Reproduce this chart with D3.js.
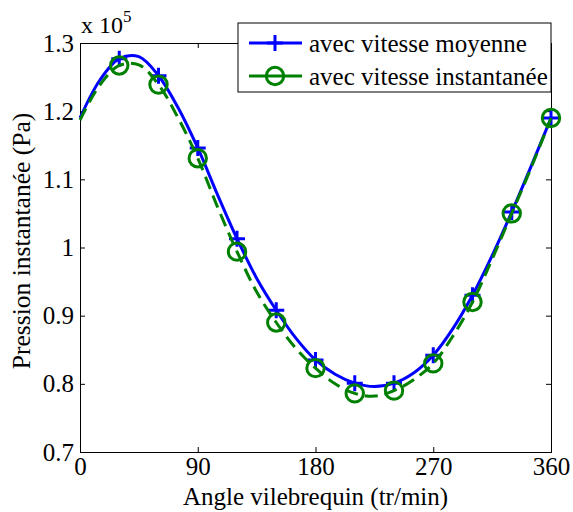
<!DOCTYPE html>
<html>
<head>
<meta charset="utf-8">
<script src="https://cdn.jsdelivr.net/npm/d3@7"></script>
<style>
  body { margin: 0; background: #fff; }
</style>
</head>
<body>
<div id="chart"></div>
<script>
// angle (deg) every 15, values in units of 1e5 Pa
var angles = d3.range(0, 361, 15);
var moyenne = [1.190, 1.245, 1.277, 1.280, 1.252, 1.205, 1.146, 1.078, 1.013, 0.955, 0.908, 0.867,
               0.835, 0.814, 0.801, 0.796, 0.801, 0.816, 0.842, 0.881, 0.930, 0.988, 1.052, 1.120, 1.190];
var instant = [1.187, 1.238, 1.267, 1.268, 1.239, 1.190, 1.131, 1.060, 0.994, 0.935, 0.890, 0.852,
               0.823, 0.800, 0.786, 0.782, 0.790, 0.806, 0.830, 0.870, 0.920, 0.983, 1.050, 1.118, 1.190];
var xTicks = [0, 90, 180, 270, 360];
var yTicks = [0.7, 0.8, 0.9, 1.0, 1.1, 1.2, 1.3];
var seriesNames = ["avec vitesse moyenne", "avec vitesse instantanée"];

var width = 573, height = 512;
var margin = { top: 43, right: 22, bottom: 60, left: 80 };
var FONT = "'Liberation Serif', 'Times New Roman', serif";
var FS = "25px";

var svg = d3.select("#chart").append("svg")
    .attr("width", width)
    .attr("height", height);

var x = d3.scaleLinear().domain([0, 360]).range([margin.left, width - margin.right]);
var y = d3.scaleLinear().domain([0.7, 1.3]).range([height - margin.bottom, margin.top]);

var tickFmt = function(d) { return d === 1 ? "1" : d3.format(".1f")(d); };

// axes with inward ticks (box on all four sides)
svg.append("g")
    .attr("transform", "translate(0," + y.range()[0] + ")")
    .call(d3.axisBottom(x).tickValues(xTicks).tickSize(-5).tickPadding(5));
svg.append("g")
    .attr("transform", "translate(0," + y.range()[1] + ")")
    .call(d3.axisTop(x).tickValues(xTicks).tickSize(-5).tickFormat(""));
svg.append("g")
    .attr("transform", "translate(" + x.range()[0] + ",0)")
    .call(d3.axisLeft(y).tickValues(yTicks).tickSize(-5).tickPadding(6).tickFormat(tickFmt));
svg.append("g")
    .attr("transform", "translate(" + x.range()[1] + ",0)")
    .call(d3.axisRight(y).tickValues(yTicks).tickSize(-5).tickFormat(""));

svg.selectAll(".domain, .tick line").attr("stroke", "#000").attr("stroke-width", 1);
svg.selectAll(".tick text").style("font-family", FONT).style("font-size", FS).attr("fill", "#000");

// exponent label
var expo = svg.append("text")
    .attr("x", x(0) + 1)
    .attr("y", 33)
    .style("font-family", FONT)
    .style("font-size", "24px");
expo.append("tspan").text("x 10");
expo.append("tspan").attr("dy", -11).style("font-size", "17px").text("5");

// axis titles
svg.append("text")
    .attr("x", (x.range()[0] + x.range()[1]) / 2)
    .attr("y", 505)
    .attr("text-anchor", "middle")
    .style("font-family", FONT)
    .style("font-size", FS)
    .text("Angle vilebrequin (tr/min)");
svg.append("text")
    .attr("transform", "translate(30,241) rotate(-90)")
    .attr("text-anchor", "middle")
    .style("font-family", FONT)
    .style("font-size", "25.5px")
    .text("Pression instantanée (Pa)");

var line = d3.line()
    .x(function(d) { return x(d[0]); })
    .y(function(d) { return y(d[1]); })
    .curve(d3.curveCatmullRom);

var blueData = angles.map(function(a, i) { return [a, moyenne[i]]; });
var greenData = angles.map(function(a, i) { return [a, instant[i]]; });
var isMarker = function(d) { return d[0] > 0 && d[0] % 30 === 0; };

svg.append("path")
    .attr("d", line(blueData))
    .attr("fill", "none")
    .attr("stroke", "#0000ff")
    .attr("stroke-width", 3);

svg.selectAll(".plus")
    .data(blueData.filter(isMarker))
    .enter().append("path")
    .attr("class", "plus")
    .attr("d", function(d) {
        var cx = x(d[0]), cy = y(d[1]), s = 8;
        return "M" + (cx - s) + "," + cy + "H" + (cx + s) + "M" + cx + "," + (cy - s) + "V" + (cy + s);
    })
    .attr("stroke", "#0000ff")
    .attr("stroke-width", 3);

svg.append("path")
    .attr("d", line(greenData))
    .attr("fill", "none")
    .attr("stroke", "#008000")
    .attr("stroke-width", 3)
    .attr("stroke-dasharray", "13,7");

svg.selectAll(".circ")
    .data(greenData.filter(isMarker))
    .enter().append("circle")
    .attr("class", "circ")
    .attr("cx", function(d) { return x(d[0]); })
    .attr("cy", function(d) { return y(d[1]); })
    .attr("r", 8.7)
    .attr("fill", "none")
    .attr("stroke", "#008000")
    .attr("stroke-width", 3);

// legend
var lg = svg.append("g").attr("transform", "translate(238,23)");
lg.append("rect")
    .attr("width", 313).attr("height", 69)
    .attr("fill", "#fff").attr("stroke", "#000").attr("stroke-width", 1);

var legendItems = [
    { name: seriesNames[0], color: "#0000ff", marker: "plus" },
    { name: seriesNames[1], color: "#008000", marker: "circle" }
];
legendItems.forEach(function(it, i) {
    var yy = 20 + i * 33;
    lg.append("line")
        .attr("x1", 11).attr("x2", 64).attr("y1", yy).attr("y2", yy)
        .attr("stroke", it.color).attr("stroke-width", 3);
    if (it.marker === "plus") {
        lg.append("path")
            .attr("d", "M29," + yy + "H45M37," + (yy - 8) + "V" + (yy + 8))
            .attr("stroke", it.color).attr("stroke-width", 3);
    } else {
        lg.append("circle")
            .attr("cx", 37).attr("cy", yy).attr("r", 8.7)
            .attr("fill", "none").attr("stroke", it.color).attr("stroke-width", 3);
    }
    lg.append("text")
        .attr("x", 71).attr("y", yy + 9)
        .style("font-family", FONT)
        .style("font-size", FS)
        .text(it.name);
});
</script>
</body>
</html>
